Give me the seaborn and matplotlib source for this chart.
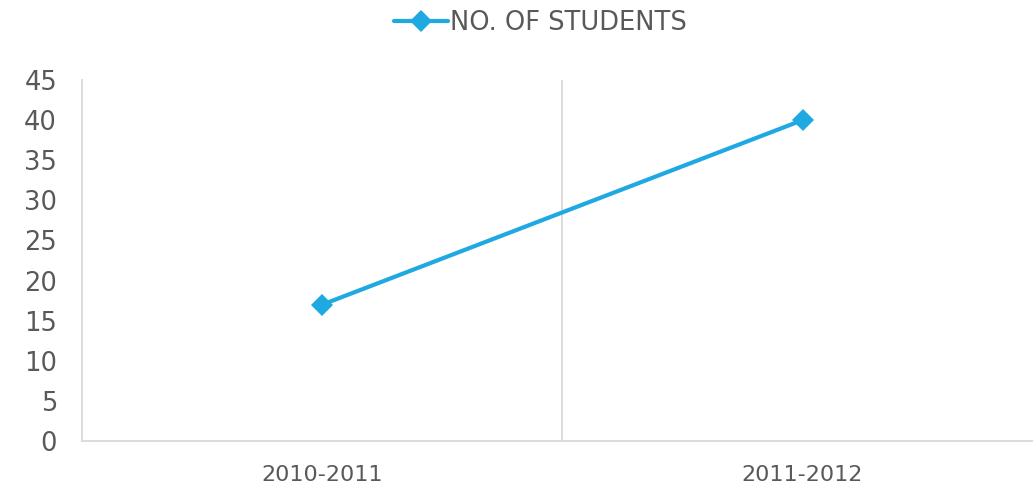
import matplotlib
matplotlib.use("Agg")
import matplotlib.pyplot as plt
import seaborn as sns
import pandas as pd

years = ["2010-2011", "2011-2012"]
students = [17, 40]
series_name = "NO. OF STUDENTS"
y_ticks = [0, 5, 10, 15, 20, 25, 30, 35, 40, 45]

sns.set_theme(style="white")
plt.rcParams['font.family'] = ['DejaVu Sans']

df = pd.DataFrame({"year": years, "students": students})

fig = plt.figure(figsize=(10.33, 4.88), dpi=100)
ax = fig.add_axes([0.0794, 0.0963, 0.930, 0.7397])

line_color = "#1FA9E1"
text_color = "#595959"
grid_color = "#D9D9D9"

sns.lineplot(data=df, x="year", y="students", ax=ax, color=line_color,
             linewidth=3, marker="D", markersize=11, markeredgewidth=0,
             label=series_name, sort=False)

ax.set_xlim(-0.5, 1.5)
ax.set_ylim(0, 45)
ax.set_yticks(y_ticks)
ax.set_xticks(range(len(years)))
ax.set_xticklabels(years)
ax.axvline(0.5, color=grid_color, linewidth=1.3, zorder=0)

for s in ["top", "right"]:
    ax.spines[s].set_visible(False)
for s in ["left", "bottom"]:
    ax.spines[s].set_color(grid_color)
    ax.spines[s].set_linewidth(1.3)

ax.set_xlabel("")
ax.set_ylabel("")
ax.tick_params(axis="y", labelsize=18.5, labelcolor=text_color, length=0, pad=18)
ax.tick_params(axis="x", labelsize=16, labelcolor=text_color, length=0, pad=17)
for t in ax.get_xticklabels():
    t.set_fontstretch("expanded")

leg = fig.legend(loc="center", bbox_to_anchor=(0.523, 0.953),
                 frameon=False, fontsize=18.5, handlelength=2.1, handletextpad=0.05,
                 borderaxespad=0)
if ax.get_legend():
    ax.get_legend().remove()
for t in leg.get_texts():
    t.set_color(text_color)

fig.savefig("out.png", dpi=100)
